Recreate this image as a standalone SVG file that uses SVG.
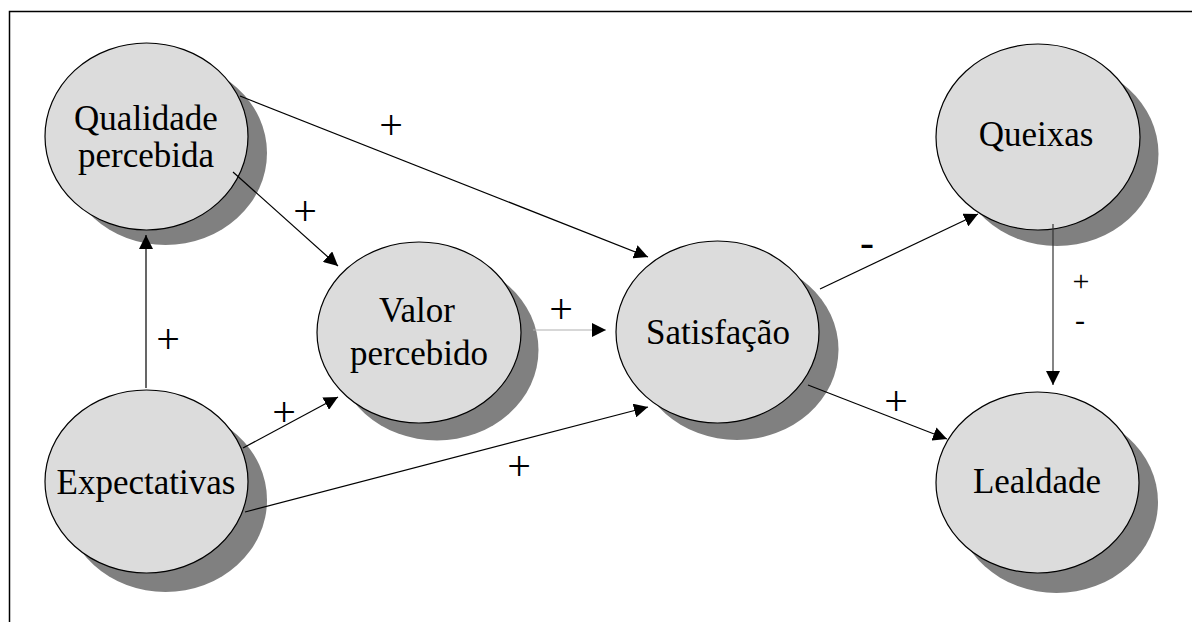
<svg xmlns="http://www.w3.org/2000/svg" width="1192" height="622" viewBox="0 0 1192 622">
<style>
.shadow{fill:#808080;stroke:none}
.node{fill:#dcdcdc;stroke:#000;stroke-width:1.2}
.lbl{font-family:"Liberation Serif","Times New Roman",serif;font-size:35px;fill:#000;text-anchor:middle}
.sign{font-family:"Liberation Serif","Times New Roman",serif;font-size:42px;fill:#000;text-anchor:middle}
.sign-sm{font-family:"Liberation Serif","Times New Roman",serif;font-size:30px;fill:#000;text-anchor:middle}
.edge{stroke:#000;stroke-width:1.2;fill:none;marker-end:url(#ah)}
</style>
<defs>
<marker id="ah" markerUnits="userSpaceOnUse" markerWidth="14" markerHeight="14" refX="14" refY="7" orient="auto">
<path d="M0,0 L14,7 L0,14 Z" fill="#000"/>
</marker>
</defs>
<rect width="1192" height="622" fill="#fff"/>
<path d="M9.5,622 V11.5 H1192" fill="none" stroke="#000" stroke-width="1.5"/>

<g id="node-qualidade">
<ellipse class="shadow" cx="165.5" cy="153" rx="101.5" ry="92"/>
<ellipse class="node" cx="146.5" cy="136.5" rx="101.5" ry="93.5"/>
<text class="lbl" x="146" y="130">Qualidade</text>
<text class="lbl" x="146" y="167">percebida</text>
</g>
<g id="node-expectativas">
<ellipse class="shadow" cx="165.5" cy="500" rx="101.5" ry="92"/>
<ellipse class="node" cx="146.5" cy="481.5" rx="101.5" ry="91.5"/>
<text class="lbl" x="146" y="494">Expectativas</text>
</g>
<g id="node-valor">
<ellipse class="shadow" cx="437" cy="350" rx="101.5" ry="90.5"/>
<ellipse class="node" cx="419" cy="332.5" rx="102" ry="90.5"/>
<text class="lbl" x="417" y="322">Valor</text>
<text class="lbl" x="419" y="365">percebido</text>
</g>
<g id="node-satisfacao">
<ellipse class="shadow" cx="737" cy="349.5" rx="101.5" ry="90.5"/>
<ellipse class="node" cx="717.5" cy="332" rx="101.5" ry="91"/>
<text class="lbl" x="718" y="344">Satisfação</text>
</g>
<g id="node-queixas">
<ellipse class="shadow" cx="1057" cy="154" rx="101.5" ry="92"/>
<ellipse class="node" cx="1038" cy="137" rx="102" ry="93"/>
<text class="lbl" x="1036" y="146">Queixas</text>
</g>
<g id="node-lealdade">
<ellipse class="shadow" cx="1056.5" cy="502" rx="101.5" ry="91"/>
<ellipse class="node" cx="1037.5" cy="482.5" rx="101.5" ry="90.5"/>
<text class="lbl" x="1037" y="493">Lealdade</text>
</g>

<g id="connectors">
<line class="edge" x1="240" y1="96" x2="648" y2="257"/>
<line class="edge" x1="233" y1="172" x2="338" y2="266"/>
<line class="edge" x1="146" y1="388" x2="146" y2="235"/>
<line class="edge" x1="243" y1="448" x2="338" y2="397"/>
<line class="edge" x1="245" y1="512" x2="648" y2="407"/>
<line class="edge" x1="533" y1="330" x2="606" y2="330" style="stroke:#b0b0b0"/>
<line class="edge" x1="820" y1="289" x2="978" y2="214"/>
<line class="edge" x1="808" y1="385" x2="947" y2="439"/>
<line class="edge" x1="1053" y1="224" x2="1053" y2="385" style="stroke:#333"/>
</g>

<g id="edge-labels">
<text class="sign" x="391" y="139">+</text>
<text class="sign" x="305" y="225">+</text>
<text class="sign" x="168" y="353">+</text>
<text class="sign" x="284" y="426">+</text>
<text class="sign" x="519" y="480">+</text>
<text class="sign" x="561" y="323">+</text>
<text class="sign" x="867" y="256">-</text>
<text class="sign" x="896" y="415">+</text>
<text class="sign-sm" x="1081" y="291">+</text>
<text class="sign-sm" x="1080" y="330">-</text>
</g>
</svg>
